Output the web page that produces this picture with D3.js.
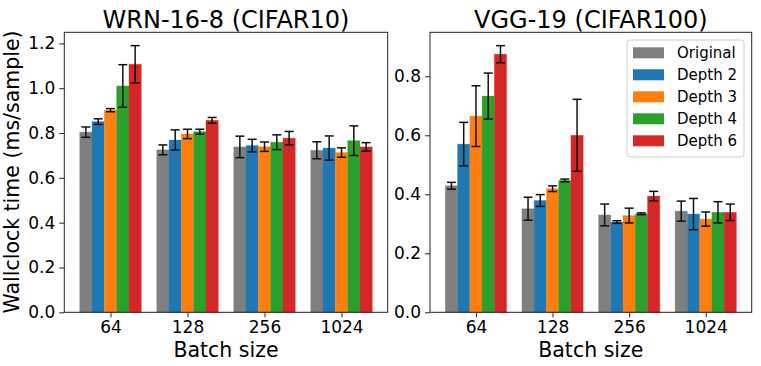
<!DOCTYPE html>
<html>
<head>
<meta charset="utf-8">
<script src="https://d3js.org/d3.v7.min.js"></script>
<style>
  body { margin: 0; background: #fff; }
  svg { font-family: "DejaVu Sans", sans-serif; }
  .ax-title { font-size: 24px; fill: #000; }
  .ax-label { font-size: 20.5px; fill: #000; }
  .legend-text { font-size: 15px; fill: #000; }
</style>
</head>
<body>
<div id="chart"></div>
<script>
// ---- data ----
var batchSizes = ["64", "128", "256", "1024"];
var seriesNames = ["Original", "Depth 2", "Depth 3", "Depth 4", "Depth 6"];
var seriesColors = ["#7f7f7f", "#1f77b4", "#ff7f0e", "#2ca02c", "#d62728"];

// rows = series, columns = batch size
var wrnMean = [
  [0.804, 0.725, 0.738, 0.723],
  [0.851, 0.769, 0.744, 0.733],
  [0.902, 0.796, 0.739, 0.713],
  [1.010, 0.806, 0.759, 0.766],
  [1.107, 0.857, 0.777, 0.738]
];
var wrnErr = [
  [0.023, 0.022, 0.048, 0.038],
  [0.0125, 0.045, 0.028, 0.054],
  [0.007, 0.021, 0.021, 0.021],
  [0.095, 0.011, 0.033, 0.066],
  [0.083, 0.0125, 0.030, 0.019]
];
var vggMean = [
  [0.429, 0.351, 0.330, 0.343],
  [0.570, 0.379, 0.306, 0.333],
  [0.665, 0.419, 0.328, 0.316],
  [0.733, 0.447, 0.334, 0.339],
  [0.875, 0.600, 0.394, 0.339]
];
var vggErr = [
  [0.0115, 0.039, 0.037, 0.034],
  [0.074, 0.020, 0.0045, 0.053],
  [0.103, 0.0097, 0.025, 0.024],
  [0.078, 0.0045, 0.003, 0.036],
  [0.029, 0.122, 0.016, 0.028]
];
var wrnTicks = [0, 0.2, 0.4, 0.6, 0.8, 1.0, 1.2];
var vggTicks = [0, 0.2, 0.4, 0.6, 0.8];

var width = 761, height = 366;
var plotTop = 32.3, plotBottom = 312.3;
var barW = 0.16;

var svg = d3.select("#chart").append("svg")
  .attr("width", width)
  .attr("height", height);

function drawPanel(left, right, title, means, errs, ticks) {
  var x = d3.scaleLinear().domain([-0.6, 3.6]).range([left, right]);
  // matplotlib-style autoscale: 5% headroom over top of error bars
  var ymax = d3.max(means, function(row, s) {
    return d3.max(row, function(v, i) { return v + errs[s][i]; });
  }) * 1.05;
  var y = d3.scaleLinear().domain([0, ymax]).range([plotBottom, plotTop]);

  var g = svg.append("g");

  // bars
  means.forEach(function(row, s) {
    g.selectAll(null)
      .data(row)
      .enter()
      .append("rect")
      .attr("x", function(d, i) { return x(i + (s - 2) * barW - barW / 2); })
      .attr("width", function() { return x(barW) - x(0); })
      .attr("y", function(d) { return y(d); })
      .attr("height", function(d) { return y(0) - y(d); })
      .attr("fill", seriesColors[s])
      .attr("stroke", seriesColors[s])
      .attr("stroke-opacity", 0.3)
      .attr("stroke-width", 1);
  });

  // error bars
  means.forEach(function(row, s) {
    row.forEach(function(v, i) {
      var cx = x(i + (s - 2) * barW);
      var lo = y(v - errs[s][i]), hi = y(v + errs[s][i]);
      var eg = g.append("g").attr("stroke", "#111").attr("stroke-width", 1.5);
      eg.append("line").attr("x1", cx).attr("x2", cx).attr("y1", lo).attr("y2", hi);
      eg.append("line").attr("x1", cx - 4.5).attr("x2", cx + 4.5).attr("y1", lo).attr("y2", lo);
      eg.append("line").attr("x1", cx - 4.5).attr("x2", cx + 4.5).attr("y1", hi).attr("y2", hi);
    });
  });

  // frame
  g.append("rect")
    .attr("x", left).attr("y", plotTop)
    .attr("width", right - left).attr("height", plotBottom - plotTop)
    .attr("fill", "none").attr("stroke", "#222").attr("stroke-width", 1);

  // y axis
  var yAxis = d3.axisLeft(y).tickValues(ticks).tickFormat(d3.format(".1f")).tickSize(5).tickPadding(4);
  var ya = svg.append("g").attr("transform", "translate(" + left + ",0)").call(yAxis);
  ya.select(".domain").remove();
  ya.selectAll("line").attr("stroke", "#222");
  ya.attr("font-family", null).attr("font-size", null);
  ya.selectAll("text").style("font-size", "17px").attr("fill", "#000");

  // x axis
  var xAxis = d3.axisBottom(x).tickValues(d3.range(batchSizes.length))
    .tickFormat(function(i) { return batchSizes[i]; }).tickSize(5).tickPadding(4);
  var xa = svg.append("g").attr("transform", "translate(0," + plotBottom + ")").call(xAxis);
  xa.select(".domain").remove();
  xa.selectAll("line").attr("stroke", "#222");
  xa.attr("font-family", null).attr("font-size", null);
  xa.selectAll("text").style("font-size", "17px").attr("fill", "#000");

  svg.append("text")
    .attr("class", "ax-title")
    .attr("x", (left + right) / 2).attr("y", 27.5)
    .attr("text-anchor", "middle")
    .text(title);

  svg.append("text")
    .attr("class", "ax-label")
    .attr("x", (left + right) / 2).attr("y", 356.5)
    .attr("text-anchor", "middle")
    .text("Batch size");
}

drawPanel(64.3, 387.7, "WRN-16-8 (CIFAR10)", wrnMean, wrnErr, wrnTicks);
drawPanel(430, 751.7, "VGG-19 (CIFAR100)", vggMean, vggErr, vggTicks);

svg.append("text")
  .attr("class", "ax-label")
  .attr("transform", "translate(19,172) rotate(-90)")
  .attr("text-anchor", "middle")
  .text("Wallclock time (ms/sample)");

// legend
var legend = svg.append("g").attr("transform", "translate(627,40)");
legend.append("rect")
  .attr("width", 117).attr("height", 117).attr("rx", 3)
  .attr("fill", "#fff").attr("fill-opacity", 0.8)
  .attr("stroke", "#ccc").attr("stroke-width", 1);
var items = legend.selectAll("g.item")
  .data(seriesNames)
  .enter()
  .append("g")
  .attr("class", "item")
  .attr("transform", function(d, i) { return "translate(6," + (7.3 + i * 22) + ")"; });
items.append("rect")
  .attr("width", 31).attr("height", 11)
  .attr("fill", function(d, i) { return seriesColors[i]; });
items.append("text")
  .attr("class", "legend-text")
  .attr("x", 44).attr("y", 11)
  .text(function(d) { return d; });
</script>
</body>
</html>
